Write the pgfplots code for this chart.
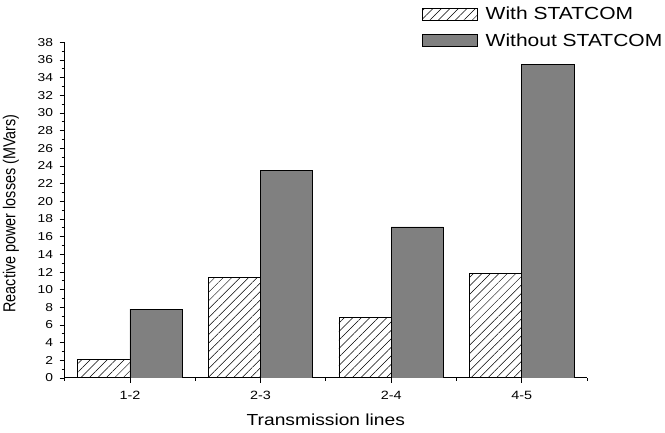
\documentclass[border=0pt]{standalone}
\usepackage{fontspec}
\setmainfont{Liberation Sans}[FakeStretch=1.2]
\newfontfamily\plainsans{Liberation Sans}
\usepackage{graphicx}
\usepackage{pgfplots}
\pgfplotsset{compat=1.18}
\usetikzlibrary{patterns.meta}
\definecolor{bargray}{RGB}{128,128,128}

\begin{document}
\begin{tikzpicture}
\begin{axis}[
  at={(64.6pt,55pt)}, anchor=south west,
  scale only axis, width=522.5pt, height=335.7pt,
  xmin=0.5, xmax=4.5, ymin=0, ymax=38,
  axis x line*=bottom, axis y line*=left,
  axis line style={line width=1pt, black},
  xtick={1,2,3,4}, xticklabels={1-2,2-3,2-4,4-5},
  minor xtick={0.5,1.5,2.5,3.5,4.5},
  ytick={0,2,...,38}, minor ytick={1,3,...,37},
  tick align=outside,
  major tick length=5pt, minor tick length=3pt,
  tick style={line width=0.8pt, black},
  xticklabel style={font=\fontsize{12}{13}\selectfont, yshift=-5pt},
  yticklabel style={font=\fontsize{11.5}{12}\selectfont, xshift=-3pt},
  /pgf/number format/assume math mode=true,
  xlabel={Transmission lines},
  xlabel style={at={(axis description cs:0.5,-0.1251)}, anchor=center, font=\fontsize{16}{17}\selectfont},
  ylabel={\plainsans\fontsize{14.4}{16}\selectfont\scalebox{1}[1.2]{Reactive power losses (MVars)}},
  ylabel style={at={(axis description cs:-0.1026,0.49)}, anchor=center},
  ybar, bar width=0.4,
  legend style={draw=none, fill=none, inner sep=0pt, at={(0.6835,1.111)}, anchor=north west,
    row sep=8pt, column sep=6pt, font=\fontsize{17.5}{18}\selectfont},
  legend cell align=left,
  legend image code/.code={\draw[#1, line width=0.8pt] (0pt,-6pt) rectangle (55pt,6pt);},
]
\addplot[draw=black, line width=0.8pt, bar shift=-0.2,
  pattern={Lines[angle=45,distance=6pt,line width=0.5pt]}]
  coordinates {(1,2.1) (2,11.4) (3,6.9) (4,11.8)};
\addplot[draw=black, fill=bargray, line width=0.8pt, bar shift=0.2]
  coordinates {(1,7.8) (2,23.5) (3,17.1) (4,35.5)};
\legend{With STATCOM, Without STATCOM}
\end{axis}
\pgfresetboundingbox
\path (0pt,0pt) rectangle (665pt,433pt);
\end{tikzpicture}
\end{document}
